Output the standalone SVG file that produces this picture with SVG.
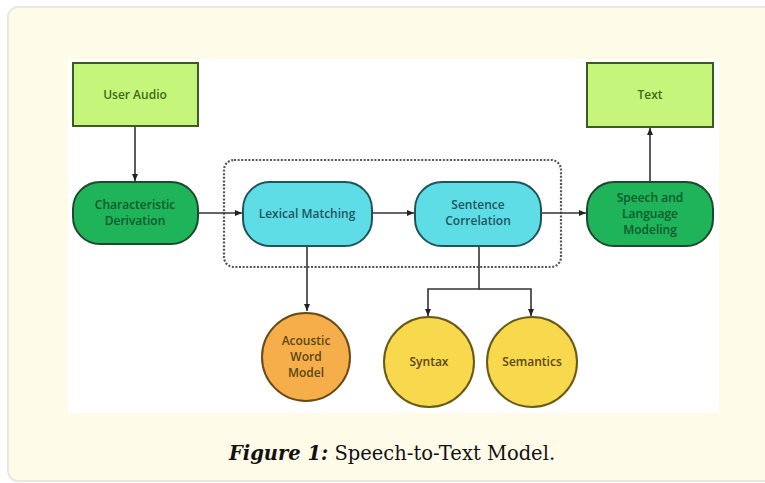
<svg xmlns="http://www.w3.org/2000/svg" width="765" height="483" viewBox="0 0 765 483">
<defs>
<marker id="ah" markerWidth="8" markerHeight="8" refX="7" refY="4" orient="auto" markerUnits="userSpaceOnUse">
<path d="M0,1 L7,4 L0,7 Z" fill="#222"/>
</marker>
<style>
.lbl{font-family:"Open Sans","Liberation Sans",sans-serif;font-size:12px;font-weight:600;text-anchor:middle;}
.lime{fill:#c6f57c;stroke:#3d5a22;stroke-width:2;}
.green{fill:#1fb35a;stroke:#1b4a2c;stroke-width:2;}
.cyan{fill:#5fdde6;stroke:#1f5458;stroke-width:2;}
.orange{fill:#f6ae4a;stroke:#6a4a18;stroke-width:2;}
.yellow{fill:#f8d84c;stroke:#6a5a18;stroke-width:2;}
.t-lime{fill:#3f6a14;}
.t-green{fill:#0c5a2c;}
.t-cyan{fill:#1d5560;}
.t-circ{fill:#5a4612;}
.conn{stroke:#333;stroke-width:1.6;fill:none;}
</style>
</defs>
<rect x="8" y="7" width="770" height="474" rx="10" fill="#fffbe9" stroke="#ebe7dc" stroke-width="2"/>
<rect x="68" y="59" width="651" height="354" fill="#ffffff"/>
<rect id="group-box" x="224" y="160" width="337" height="107" rx="10" fill="none" stroke="#555" stroke-width="2.2" stroke-dasharray="2,1.6"/>
<g id="connectors">
<line class="conn" x1="135" y1="126" x2="135" y2="181" marker-end="url(#ah)"/>
<line class="conn" x1="198" y1="213" x2="242" y2="213" marker-end="url(#ah)"/>
<line class="conn" x1="372" y1="213" x2="414" y2="213" marker-end="url(#ah)"/>
<line class="conn" x1="541" y1="213" x2="586" y2="213" marker-end="url(#ah)"/>
<line class="conn" x1="650" y1="182" x2="650" y2="128" marker-end="url(#ah)"/>
<line class="conn" x1="307" y1="247" x2="307" y2="311" marker-end="url(#ah)"/>
<polyline class="conn" points="479,247 479,289 428,289 428,316" marker-end="url(#ah)"/>
<polyline class="conn" points="479,289 531,289 531,316" marker-end="url(#ah)"/>
</g>
<g id="user-audio">
<rect class="lime" x="73" y="63" width="125" height="63"/>
<text class="lbl t-lime" x="135" y="99">User Audio</text>
</g>
<g id="text-out">
<rect class="lime" x="587" y="63" width="126" height="64"/>
<text class="lbl t-lime" x="650" y="99">Text</text>
</g>
<g id="characteristic-derivation">
<rect class="green" x="73" y="182" width="125" height="62" rx="27"/>
<text class="lbl t-green" x="135" y="209">Characteristic</text>
<text class="lbl t-green" x="135" y="225">Derivation</text>
</g>
<g id="lexical-matching">
<rect class="cyan" x="243" y="182" width="129" height="64" rx="27"/>
<text class="lbl t-cyan" x="307" y="218">Lexical Matching</text>
</g>
<g id="sentence-correlation">
<rect class="cyan" x="415" y="182" width="126" height="64" rx="27"/>
<text class="lbl t-cyan" x="478" y="209">Sentence</text>
<text class="lbl t-cyan" x="478" y="225">Correlation</text>
</g>
<g id="speech-language-modeling">
<rect class="green" x="587" y="182" width="126" height="64" rx="27"/>
<text class="lbl t-green" x="650" y="202">Speech and</text>
<text class="lbl t-green" x="650" y="218">Language</text>
<text class="lbl t-green" x="650" y="234">Modeling</text>
</g>
<g id="acoustic-word-model">
<circle class="orange" cx="306" cy="357" r="44"/>
<text class="lbl t-circ" x="306" y="345">Acoustic</text>
<text class="lbl t-circ" x="306" y="361">Word</text>
<text class="lbl t-circ" x="306" y="377">Model</text>
</g>
<g id="syntax">
<circle class="yellow" cx="429" cy="362" r="45"/>
<text class="lbl t-circ" x="429" y="366">Syntax</text>
</g>
<g id="semantics">
<circle class="yellow" cx="532" cy="362" r="45"/>
<text class="lbl t-circ" x="532" y="366">Semantics</text>
</g>
<text x="392" y="460" text-anchor="middle" font-family="'DejaVu Serif','Liberation Serif',serif" font-size="19.5" fill="#111"><tspan font-weight="bold" font-style="italic">Figure 1:</tspan> Speech-to-Text Model.</text>
</svg>
